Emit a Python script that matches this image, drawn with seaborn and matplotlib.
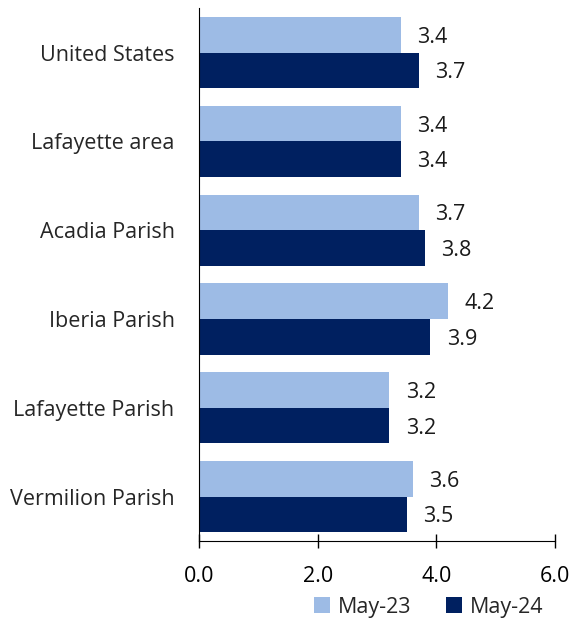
import pandas as pd
import matplotlib.pyplot as plt
import seaborn as sns

# Data
areas = ['United States', 'Lafayette area', 'Acadia Parish', 'Iberia Parish',
         'Lafayette Parish', 'Vermilion Parish']
may23 = [3.4, 3.4, 3.7, 4.2, 3.2, 3.6]
may24 = [3.7, 3.4, 3.8, 3.9, 3.2, 3.5]
periods = ['May-23', 'May-24']
xticks = [0, 2, 4, 6]

sns.set_style('white')
plt.rcParams['font.family'] = ['Open Sans', 'DejaVu Sans']
fs = 15.5

df = pd.DataFrame({'area': areas * 2,
                   'rate': may23 + may24,
                   'period': [periods[0]] * len(areas) + [periods[1]] * len(areas)})

fig = plt.figure(figsize=(5.7, 6.22), dpi=100)
ax = fig.add_axes([0.349, 0.130, 0.625, 0.857])

palette = {'May-23': '#9dbbe5', 'May-24': '#002060'}
sns.barplot(data=df, y='area', x='rate', hue='period', palette=palette,
            orient='h', width=0.8, ax=ax, saturation=1, linewidth=0)

# value labels, nudged slightly down like the original
for cont in ax.containers:
    texts = ax.bar_label(cont, fmt='%.1f', padding=12, fontsize=fs, color='#1a1a1a')
    for t in texts:
        t.set_y(t.get_position()[1])
        t.set_va('center_baseline')

ax.set_xlim(0, 6)
ax.set_xticks(xticks)
ax.set_xticklabels([f'{v:.1f}' for v in xticks], fontsize=fs)
ax.tick_params(axis='x', bottom=True, direction='inout', length=10, width=1,
               pad=13, colors='black')
ax.tick_params(axis='y', left=False, pad=14, labelsize=fs)
ax.set_xlabel('')
ax.set_ylabel('')
for s in ['top', 'right']:
    ax.spines[s].set_visible(False)
ax.spines['left'].set_color('black')
ax.spines['bottom'].set_color('black')
ax.set_ylim(5.5, -0.5)

handles, labels = ax.get_legend_handles_labels()
ax.get_legend().remove()
fig.legend(handles, labels, loc='center', bbox_to_anchor=(0.752, 0.024), ncol=2,
           frameon=False, fontsize=fs, handlelength=0.75, handleheight=0.75,
           columnspacing=1.6, handletextpad=0.35, borderpad=0)

plt.savefig('out.png', dpi=100)
